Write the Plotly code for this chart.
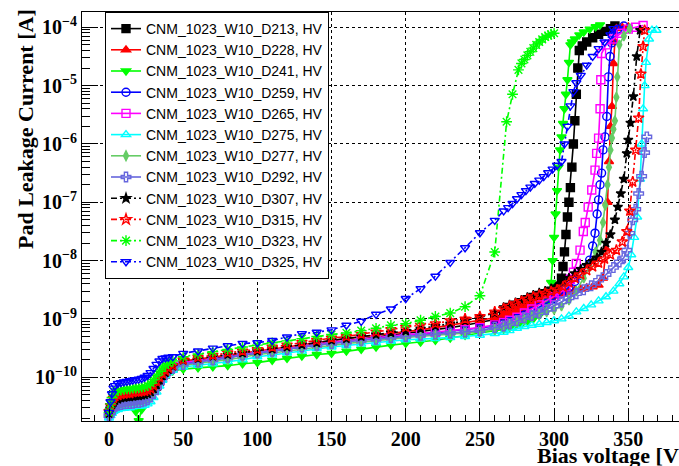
import plotly.graph_objects as go

# ---------------- data (bias voltage [V], pad leakage current [A]) ----------------
V_LOW = [0, 1, 2, 3, 4, 6, 8, 10, 12, 14, 16, 18, 20, 22, 24, 26, 28, 30, 32, 34, 36, 38, 40, 43]
V_MID = [50, 60, 70, 80, 90, 100, 110, 120, 130, 140, 150, 160, 170, 180, 190, 200, 210, 220, 230, 240, 250, 260]

d213_low = [2.4e-11, 2.8e-11, 3.3e-11, 3.6e-11, 3.9e-11, 4.1e-11, 4.3e-11, 4.4e-11, 4.5e-11, 4.5e-11, 4.6e-11, 4.7e-11, 4.7e-11, 4.8e-11, 4.9e-11, 5.0e-11, 5.4e-11, 6.0e-11, 7.1e-11, 8.5e-11, 1.0e-10, 1.15e-10, 1.3e-10, 1.45e-10]
d213_mid = [1.8e-10, 1.95e-10, 2.1e-10, 2.25e-10, 2.45e-10, 2.65e-10, 2.85e-10, 3.1e-10, 3.35e-10, 3.6e-10, 3.9e-10, 4.2e-10, 4.5e-10, 4.8e-10, 5.2e-10, 5.6e-10, 6.0e-10, 6.5e-10, 7.1e-10, 7.8e-10, 8.7e-10, 9.8e-10]
d213_v_hi = [266, 270, 274, 278, 282, 286, 290, 294, 298, 301, 303, 305, 306, 307, 308, 309, 310, 311, 312, 313, 314, 315, 316, 317, 319, 322, 326, 330, 334, 338, 341]
d213_i_hi = [1.12e-9, 1.23e-9, 1.38e-9, 1.55e-9, 1.74e-9, 1.95e-9, 2.2e-9, 2.45e-9, 2.75e-9, 3.16e-9, 3.6e-9, 5.0e-9, 7.9e-9, 1.41e-8, 2.8e-8, 5.6e-8, 1.0e-7, 1.78e-7, 4.0e-7, 1.0e-6, 2.5e-6, 7.1e-6, 2.0e-5, 4.0e-5, 4.8e-5, 5.6e-5, 6.6e-5, 7.6e-5, 8.5e-5, 9.5e-5, 1.05e-4]

d228_low = [2.5e-11, 3.2e-11, 3.8e-11, 4.3e-11, 4.6e-11, 4.8e-11, 5.0e-11, 5.1e-11, 5.2e-11, 5.2e-11, 5.4e-11, 5.5e-11, 5.5e-11, 5.6e-11, 5.75e-11, 5.9e-11, 6.3e-11, 7.1e-11, 8.3e-11, 9.8e-11, 1.12e-10, 1.29e-10, 1.41e-10, 1.58e-10]
d228_mid = [1.9e-10, 2.05e-10, 2.2e-10, 2.4e-10, 2.6e-10, 2.8e-10, 3.05e-10, 3.3e-10, 3.6e-10, 3.9e-10, 4.3e-10, 4.6e-10, 4.9e-10, 5.25e-10, 5.6e-10, 6.0e-10, 6.5e-10, 7.1e-10, 7.8e-10, 8.5e-10, 9.5e-10, 1.05e-9]
d228_v_hi = [266, 270, 274, 278, 282, 286, 290, 294, 298, 302, 306, 310, 314, 318, 322, 326, 330, 333, 335, 336, 337, 338, 339, 340, 341, 342, 346, 350]
d228_i_hi = [1.17e-9, 1.26e-9, 1.38e-9, 1.51e-9, 1.66e-9, 1.78e-9, 1.9e-9, 2.1e-9, 2.3e-9, 2.5e-9, 2.7e-9, 2.9e-9, 3.1e-9, 3.25e-9, 3.4e-9, 3.55e-9, 3.8e-9, 5.0e-9, 1.58e-8, 1.0e-7, 5.0e-7, 2.0e-6, 4.4e-6, 2.4e-5, 5.6e-5, 9.5e-5, 1.0e-4, 1.02e-4]

d241_low = [2.2e-11, 2.8e-11, 3.4e-11, 3.8e-11, 4.2e-11, 4.5e-11, 4.7e-11, 4.8e-11, 4.8e-11, 4.6e-11, 3.8e-11, 2.6e-11, 1.8e-11, 2.8e-11, 4.2e-11, 4.8e-11, 5.25e-11, 5.9e-11, 6.9e-11, 8.3e-11, 9.8e-11, 1.1e-10, 1.2e-10, 1.29e-10]
d241_mid = [1.38e-10, 1.45e-10, 1.51e-10, 1.58e-10, 1.7e-10, 1.78e-10, 1.95e-10, 2.1e-10, 2.3e-10, 2.45e-10, 2.57e-10, 2.8e-10, 3.0e-10, 3.3e-10, 3.55e-10, 3.8e-10, 4.0e-10, 4.3e-10, 4.7e-10, 5.25e-10, 5.75e-10, 6.3e-10]
d241_v_hi = [266, 270, 274, 278, 282, 286, 290, 293, 296, 298, 299, 300, 301, 302, 303, 304, 305, 306, 307, 308, 309, 310, 311, 312, 314, 317, 320, 324, 328, 331]
d241_i_hi = [6.6e-10, 7.1e-10, 7.6e-10, 8.1e-10, 8.9e-10, 1.0e-9, 1.15e-9, 1.41e-9, 2.0e-9, 4.2e-9, 1.0e-8, 2.5e-8, 6.3e-8, 1.58e-7, 4.0e-7, 7.9e-7, 1.32e-6, 2.24e-6, 4.0e-6, 7.1e-6, 1.26e-5, 2.5e-5, 5.0e-5, 5.6e-5, 6.3e-5, 7.4e-5, 8.3e-5, 9.3e-5, 1.02e-4, 1.1e-4]

d259_low = [2.2e-11, 2.6e-11, 3.0e-11, 3.3e-11, 3.5e-11, 3.7e-11, 3.9e-11, 4.0e-11, 4.1e-11, 4.2e-11, 4.2e-11, 4.3e-11, 4.3e-11, 4.4e-11, 4.5e-11, 4.7e-11, 5.1e-11, 5.9e-11, 7.1e-11, 8.5e-11, 1.0e-10, 1.17e-10, 1.32e-10, 1.48e-10]
d259_mid = [1.74e-10, 1.86e-10, 2.0e-10, 2.15e-10, 2.4e-10, 2.63e-10, 2.85e-10, 3.05e-10, 3.3e-10, 3.6e-10, 3.9e-10, 4.1e-10, 4.4e-10, 4.7e-10, 5.0e-10, 5.25e-10, 5.5e-10, 5.75e-10, 6.2e-10, 6.5e-10, 7.0e-10, 7.6e-10]
d259_v_hi = [266, 270, 275, 280, 285, 290, 295, 300, 305, 310, 314, 318, 321, 324, 326, 327.6, 329, 330, 331, 332, 333, 334.3, 335.5, 336.6, 337.7, 338.8, 340, 343, 347]
d259_i_hi = [8.3e-10, 9.1e-10, 1.02e-9, 1.17e-9, 1.35e-9, 1.58e-9, 1.86e-9, 2.2e-9, 2.7e-9, 3.5e-9, 4.4e-9, 5.6e-9, 7.6e-9, 1.02e-8, 1.78e-8, 2.95e-8, 6.3e-8, 1.1e-7, 2.0e-7, 3.16e-7, 7.9e-7, 1.32e-6, 2.95e-6, 1.41e-5, 3.16e-5, 5.4e-5, 7.9e-5, 9.3e-5, 1.05e-4]

d265_low = [2.3e-11, 2.7e-11, 3.1e-11, 3.4e-11, 3.6e-11, 3.8e-11, 4.0e-11, 4.1e-11, 4.2e-11, 4.2e-11, 4.3e-11, 4.3e-11, 4.4e-11, 4.4e-11, 4.5e-11, 4.7e-11, 5.1e-11, 6.0e-11, 7.2e-11, 8.7e-11, 1.02e-10, 1.2e-10, 1.35e-10, 1.51e-10]
d265_mid = [1.78e-10, 1.9e-10, 2.05e-10, 2.2e-10, 2.45e-10, 2.7e-10, 2.9e-10, 3.1e-10, 3.4e-10, 3.7e-10, 4.0e-10, 4.2e-10, 4.5e-10, 4.8e-10, 5.1e-10, 5.4e-10, 5.6e-10, 5.9e-10, 6.3e-10, 6.6e-10, 7.1e-10, 7.9e-10]
d265_v_hi = [266, 270, 275, 280, 285, 290, 295, 300, 304, 308, 311, 313, 315, 317.5, 319.7, 321, 323, 325.4, 327.6, 328.7, 330, 331, 331.5, 332, 335, 340, 345, 350, 355, 360]
d265_i_hi = [8.7e-10, 9.5e-10, 1.07e-9, 1.26e-9, 1.48e-9, 1.74e-9, 2.04e-9, 2.4e-9, 2.8e-9, 3.55e-9, 4.8e-9, 6.3e-9, 8.9e-9, 1.51e-8, 3.16e-8, 4.5e-8, 8.3e-8, 1.62e-7, 3.55e-7, 6.9e-7, 1.26e-6, 4.0e-6, 1.26e-5, 3.55e-5, 5.0e-5, 6.3e-5, 7.9e-5, 9.3e-5, 1.0e-4, 1.07e-4]

d275_low = [2.0e-11, 2.2e-11, 2.4e-11, 2.6e-11, 2.7e-11, 2.8e-11, 2.9e-11, 2.95e-11, 3.0e-11, 3.0e-11, 3.1e-11, 3.2e-11, 3.2e-11, 3.2e-11, 3.3e-11, 3.5e-11, 3.8e-11, 4.5e-11, 5.6e-11, 7.1e-11, 8.9e-11, 1.07e-10, 1.2e-10, 1.32e-10]
d275_mid = [1.5e-10, 1.6e-10, 1.7e-10, 1.85e-10, 2.0e-10, 2.24e-10, 2.4e-10, 2.6e-10, 2.8e-10, 3.1e-10, 3.3e-10, 3.5e-10, 3.7e-10, 3.9e-10, 4.15e-10, 4.4e-10, 4.5e-10, 4.6e-10, 4.8e-10, 5.0e-10, 5.25e-10, 5.6e-10]
d275_v_hi = [266, 270, 275, 280, 285, 290, 295, 300, 305, 310, 315, 320, 325, 330, 335, 340, 344, 347, 350, 352, 354, 356, 358, 359, 360, 361, 362, 364, 366, 369]
d275_i_hi = [5.9e-10, 6.3e-10, 6.9e-10, 7.4e-10, 7.8e-10, 8.1e-10, 8.7e-10, 9.3e-10, 1.0e-9, 1.12e-9, 1.32e-9, 1.51e-9, 1.74e-9, 2.04e-9, 2.4e-9, 3.0e-9, 4.0e-9, 5.25e-9, 7.6e-9, 1.26e-8, 2.5e-8, 5.6e-8, 2.5e-7, 1.0e-6, 4.0e-6, 1.0e-5, 2.5e-5, 6.3e-5, 8.9e-5, 8.9e-5]

d277_low = [2.2e-11, 2.5e-11, 2.8e-11, 3.1e-11, 3.3e-11, 3.5e-11, 3.6e-11, 3.7e-11, 3.8e-11, 3.8e-11, 3.9e-11, 4.0e-11, 4.0e-11, 4.1e-11, 4.2e-11, 4.4e-11, 4.8e-11, 5.5e-11, 6.6e-11, 8.1e-11, 9.8e-11, 1.12e-10, 1.26e-10, 1.38e-10]
d277_mid = [1.6e-10, 1.74e-10, 1.86e-10, 2.0e-10, 2.2e-10, 2.45e-10, 2.6e-10, 2.8e-10, 3.05e-10, 3.3e-10, 3.55e-10, 3.8e-10, 4.0e-10, 4.3e-10, 4.5e-10, 4.8e-10, 5.0e-10, 5.25e-10, 5.5e-10, 5.75e-10, 6.0e-10, 6.6e-10]
d277_v_hi = [266, 270, 275, 280, 285, 290, 295, 300, 305, 310, 315, 320, 324, 328, 331, 333, 334.5, 336, 337, 338, 339, 340, 341, 342, 342.6, 344, 347, 351]
d277_i_hi = [7.1e-10, 7.8e-10, 8.7e-10, 9.8e-10, 1.1e-9, 1.2e-9, 1.32e-9, 1.45e-9, 1.66e-9, 2.1e-9, 3.0e-9, 5.0e-9, 7.9e-9, 1.41e-8, 2.24e-8, 4.5e-8, 8.9e-8, 2.0e-7, 4.0e-7, 7.9e-7, 1.26e-6, 1.78e-6, 2.5e-6, 6.3e-6, 1.41e-5, 5.0e-5, 7.1e-5, 9.5e-5]

d292_low = [2.2e-11, 2.45e-11, 2.75e-11, 2.95e-11, 3.2e-11, 3.3e-11, 3.4e-11, 3.5e-11, 3.55e-11, 3.55e-11, 3.6e-11, 3.7e-11, 3.7e-11, 3.8e-11, 3.9e-11, 4.1e-11, 4.6e-11, 5.4e-11, 6.6e-11, 8.1e-11, 9.8e-11, 1.15e-10, 1.29e-10, 1.41e-10]
d292_mid = [1.66e-10, 1.82e-10, 2.0e-10, 2.2e-10, 2.4e-10, 2.63e-10, 2.8e-10, 3.0e-10, 3.3e-10, 3.55e-10, 3.8e-10, 4.0e-10, 4.3e-10, 4.5e-10, 4.8e-10, 5.0e-10, 5.25e-10, 5.5e-10, 5.75e-10, 6.0e-10, 6.3e-10, 7.1e-10]
d292_v_hi = [266, 270, 275, 280, 285, 290, 295, 300, 305, 310, 315, 320, 325, 330, 335, 340, 344, 347, 349, 351, 353, 355, 357, 359, 361, 362.5]
d292_i_hi = [7.6e-10, 8.3e-10, 9.3e-10, 1.05e-9, 1.15e-9, 1.26e-9, 1.45e-9, 1.66e-9, 1.95e-9, 2.3e-9, 2.7e-9, 3.16e-9, 3.7e-9, 4.6e-9, 5.75e-9, 7.6e-9, 9.5e-9, 1.12e-8, 1.51e-8, 2.95e-8, 5.0e-8, 7.6e-8, 1.41e-7, 2.8e-7, 7.1e-7, 1.32e-6]

d307_low = [2.4e-11, 2.9e-11, 3.4e-11, 3.7e-11, 4.0e-11, 4.2e-11, 4.4e-11, 4.5e-11, 4.6e-11, 4.6e-11, 4.7e-11, 4.8e-11, 4.8e-11, 4.9e-11, 5.0e-11, 5.2e-11, 5.6e-11, 6.3e-11, 7.4e-11, 8.9e-11, 1.05e-10, 1.2e-10, 1.35e-10, 1.55e-10]
d307_mid = [1.95e-10, 2.1e-10, 2.3e-10, 2.45e-10, 2.6e-10, 2.8e-10, 3.05e-10, 3.3e-10, 3.6e-10, 3.9e-10, 4.3e-10, 4.6e-10, 5.0e-10, 5.4e-10, 5.8e-10, 6.2e-10, 6.8e-10, 7.6e-10, 8.3e-10, 9.3e-10, 1.07e-9, 1.26e-9]
d307_v_hi = [266, 270, 274, 278, 282, 286, 290, 294, 298, 302, 306, 310, 314, 318, 322, 326, 329, 332, 335, 338, 341, 343, 345, 347, 349, 350, 351.5, 353.4, 355.7, 358]
d307_i_hi = [1.58e-9, 1.74e-9, 1.9e-9, 2.1e-9, 2.35e-9, 2.57e-9, 2.8e-9, 3.0e-9, 3.3e-9, 3.6e-9, 4.2e-9, 5.0e-9, 6.0e-9, 7.1e-9, 8.3e-9, 9.8e-9, 1.12e-8, 1.41e-8, 2.0e-8, 2.8e-8, 5.0e-8, 8.3e-8, 1.41e-7, 2.5e-7, 6.9e-7, 1.17e-6, 2.3e-6, 6.5e-6, 3.16e-5, 8.9e-5]

d315_low = [2.6e-11, 3.3e-11, 3.9e-11, 4.4e-11, 4.7e-11, 4.9e-11, 5.1e-11, 5.2e-11, 5.3e-11, 5.3e-11, 5.5e-11, 5.6e-11, 5.6e-11, 5.7e-11, 5.8e-11, 6.0e-11, 6.4e-11, 7.2e-11, 8.5e-11, 1.0e-10, 1.15e-10, 1.3e-10, 1.45e-10, 1.6e-10]
d315_mid = [2.0e-10, 2.2e-10, 2.4e-10, 2.63e-10, 2.82e-10, 3.0e-10, 3.3e-10, 3.6e-10, 4.0e-10, 4.3e-10, 4.7e-10, 5.0e-10, 5.5e-10, 6.0e-10, 6.6e-10, 7.2e-10, 7.8e-10, 8.3e-10, 9.3e-10, 1.0e-9, 1.1e-9, 1.32e-9]
d315_v_hi = [266, 270, 274, 278, 282, 286, 290, 294, 298, 302, 306, 310, 314, 318, 322, 326, 330, 334, 338, 342, 346, 349, 351, 353, 355, 357, 358.5, 360, 361]
d315_i_hi = [1.5e-9, 1.66e-9, 1.82e-9, 2.0e-9, 2.2e-9, 2.4e-9, 2.57e-9, 2.75e-9, 2.95e-9, 3.16e-9, 3.55e-9, 4.2e-9, 5.0e-9, 5.75e-9, 6.8e-9, 7.9e-9, 9.1e-9, 1.07e-8, 1.26e-8, 1.51e-8, 2.1e-8, 3.16e-8, 7.1e-8, 2.24e-7, 7.9e-7, 2.8e-6, 1.58e-5, 4.7e-5, 8.9e-5]

d323_low = [2.5e-11, 3.5e-11, 4.5e-11, 5.1e-11, 5.6e-11, 5.9e-11, 6.0e-11, 6.2e-11, 6.3e-11, 6.3e-11, 6.5e-11, 6.5e-11, 6.6e-11, 6.8e-11, 6.9e-11, 7.2e-11, 7.9e-11, 9.1e-11, 1.07e-10, 1.26e-10, 1.45e-10, 1.62e-10, 1.74e-10, 1.9e-10]
d323_mid = [2.24e-10, 2.5e-10, 2.75e-10, 3.0e-10, 3.3e-10, 3.55e-10, 3.9e-10, 4.2e-10, 4.6e-10, 5.0e-10, 5.4e-10, 5.75e-10, 6.3e-10, 6.9e-10, 7.8e-10, 8.3e-10, 9.5e-10, 1.1e-9, 1.26e-9, 1.62e-9, 2.5e-9, 1.4e-8]
d323_v_hi = [268, 272, 276, 278, 280, 282, 284, 286, 288, 290, 292, 294, 296, 298, 300]
d323_i_hi = [2.4e-6, 7.1e-6, 1.86e-5, 2.4e-5, 2.8e-5, 3.3e-5, 3.8e-5, 4.4e-5, 5.0e-5, 5.6e-5, 6.2e-5, 6.8e-5, 7.2e-5, 7.6e-5, 7.9e-5]

d325_low = [2.5e-11, 3.8e-11, 5.2e-11, 6.5e-11, 7.2e-11, 7.8e-11, 8.1e-11, 8.3e-11, 8.5e-11, 8.7e-11, 8.9e-11, 9.1e-11, 9.3e-11, 9.5e-11, 1.0e-10, 1.07e-10, 1.2e-10, 1.41e-10, 1.66e-10, 1.9e-10, 2.1e-10, 2.15e-10, 2.2e-10, 2.25e-10]
d325_mid = [2.57e-10, 2.82e-10, 3.16e-10, 3.47e-10, 3.8e-10, 3.9e-10, 4.27e-10, 4.9e-10, 5.6e-10, 5.9e-10, 6.5e-10, 7.8e-10, 9.1e-10, 1.2e-9, 1.48e-9, 2.24e-9, 3.3e-9, 5.4e-9, 9.3e-9, 1.66e-8, 3.0e-8, 4.9e-8]
d325_v_hi = [266, 269, 272, 275, 278, 281, 284, 287, 290, 293, 296, 299, 302, 305, 307, 309, 311, 313, 315, 318, 322, 326, 330, 334, 338, 340]
d325_i_hi = [7.1e-8, 8.1e-8, 9.5e-8, 1.15e-7, 1.35e-7, 1.58e-7, 1.82e-7, 2.1e-7, 2.4e-7, 2.75e-7, 3.2e-7, 3.7e-7, 4.3e-7, 5.0e-7, 1.0e-6, 2.0e-6, 4.5e-6, 7.9e-6, 1.12e-5, 1.5e-5, 2.24e-5, 3.16e-5, 4.3e-5, 5.6e-5, 7.4e-5, 9.5e-5]

Y_TICKS = [1e-10, 1e-9, 1e-8, 1e-7, 1e-6, 1e-5, 1e-4]
Y_TICKTEXT = ["10<sup>\u221210</sup>", "10<sup>\u22129</sup>", "10<sup>\u22128</sup>", "10<sup>\u22127</sup>",
              "10<sup>\u22126</sup>", "10<sup>\u22125</sup>", "10<sup>\u22124</sup>"]

# ---------------- styles ----------------
DD = "6px,3px,2px,3px"
series = [
    ("CNM_1023_W10_D213, HV", d213_low, d213_mid, d213_v_hi, d213_i_hi, "#000000", "square", "solid", 8),
    ("CNM_1023_W10_D228, HV", d228_low, d228_mid, d228_v_hi, d228_i_hi, "#ff0000", "triangle-up", "solid", 8),
    ("CNM_1023_W10_D241, HV", d241_low, d241_mid, d241_v_hi, d241_i_hi, "#00ff00", "triangle-down", "solid", 8),
    ("CNM_1023_W10_D259, HV", d259_low, d259_mid, d259_v_hi, d259_i_hi, "#0000ff", "circle-open", "solid", 8),
    ("CNM_1023_W10_D265, HV", d265_low, d265_mid, d265_v_hi, d265_i_hi, "#ff00ff", "square-open", "solid", 8),
    ("CNM_1023_W10_D275, HV", d275_low, d275_mid, d275_v_hi, d275_i_hi, "#00ffff", "triangle-up-open", "solid", 8),
    ("CNM_1023_W10_D277, HV", d277_low, d277_mid, d277_v_hi, d277_i_hi, "#66cc66", "diamond-tall", "solid", 7),
    ("CNM_1023_W10_D292, HV", d292_low, d292_mid, d292_v_hi, d292_i_hi, "#6666dd", "cross-open", "solid", 8),
    ("CNM_1023_W10_D307, HV", d307_low, d307_mid, d307_v_hi, d307_i_hi, "#000000", "star", DD, 7),
    ("CNM_1023_W10_D315, HV", d315_low, d315_mid, d315_v_hi, d315_i_hi, "#ff0000", "star-open", DD, 8),
    ("CNM_1023_W10_D323, HV", d323_low, d323_mid, d323_v_hi, d323_i_hi, "#00ff00", "asterisk-open", DD, 9),
    ("CNM_1023_W10_D325, HV", d325_low, d325_mid, d325_v_hi, d325_i_hi, "#0000ff", "triangle-down-open", DD, 8),
]

fig = go.Figure()
for name, lo, mid, vhi, ihi, color, symbol, dash, msize in series:
    xs = V_LOW + V_MID + vhi
    ys = lo + mid + ihi
    fig.add_trace(go.Scatter(
        x=xs, y=ys, name=name, mode="lines+markers",
        line=dict(color=color, width=1.6, dash=dash),
        marker=dict(symbol=symbol, size=msize, color=color,
                    line=dict(color=color, width=1.4)),
    ))

SERIF = "Liberation Serif"
W, H = 679, 466
ML, MT, MB = 82, 12, 45
PW, PH = W - ML, H - MT - MB

fig.update_layout(
    width=W, height=H,
    margin=dict(l=ML, r=0, t=MT, b=MB, pad=0, autoexpand=False),
    paper_bgcolor="white", plot_bgcolor="white",
    showlegend=True,
    legend=dict(
        x=(105 - ML) / PW, y=1.0, xanchor="left", yanchor="top",
        bgcolor="white", bordercolor="black", borderwidth=1,
        font=dict(family="Liberation Sans", size=14, color="black"),
        itemwidth=30, tracegroupgap=0,
    ),
    xaxis=dict(
        range=[-18.2, 384.2], automargin=False,
        showline=True, linecolor="black", linewidth=1, mirror=True,
        ticks="inside", ticklen=12, tickcolor="black", tickwidth=1,
        tick0=0, dtick=50,
        minor=dict(ticks="inside", ticklen=6, dtick=10, tick0=0, tickcolor="black", showgrid=False),
        showgrid=True, gridcolor="black", griddash="dot", gridwidth=1,
        zeroline=False,
        tickfont=dict(family=SERIF, size=20, color="black", weight="bold"),
    ),
    yaxis=dict(
        type="log", range=[-10.75, -3.738], automargin=False,
        showline=True, linecolor="black", linewidth=1, mirror=False,
        ticks="inside", ticklen=16, tickcolor="black", tickwidth=1,
        tickmode="array", tickvals=Y_TICKS, ticktext=Y_TICKTEXT,
        minor=dict(ticks="inside", ticklen=8, tickcolor="black", showgrid=False,
                   tickmode="array",
                   tickvals=[k * 10.0 ** e for e in range(-11, -3) for k in range(2, 10)]),
        showgrid=True, gridcolor="black", griddash="dot", gridwidth=1,
        zeroline=False,
        tickfont=dict(family=SERIF, size=20, color="black", weight="bold"),
    ),
    annotations=[
        dict(text="Pad Leakage Current [A]", xref="paper", yref="paper",
             x=(25 - ML) / PW, y=(H - MB - 129) / PH, xanchor="center", yanchor="middle",
             textangle=-90, showarrow=False,
             font=dict(family=SERIF, size=22, color="black", weight="bold")),
        dict(text="Bias voltage [V]", xref="paper", yref="paper",
             x=(535 - ML) / PW, y=(H - MB - 455) / PH, xanchor="left", yanchor="middle",
             showarrow=False,
             font=dict(family=SERIF, size=22, color="black", weight="bold")),
    ],
)

fig.write_html(
    "out.html",
    config={"displayModeBar": False},
    post_script="document.body.style.margin='0px';document.body.style.overflow='hidden';",
)
